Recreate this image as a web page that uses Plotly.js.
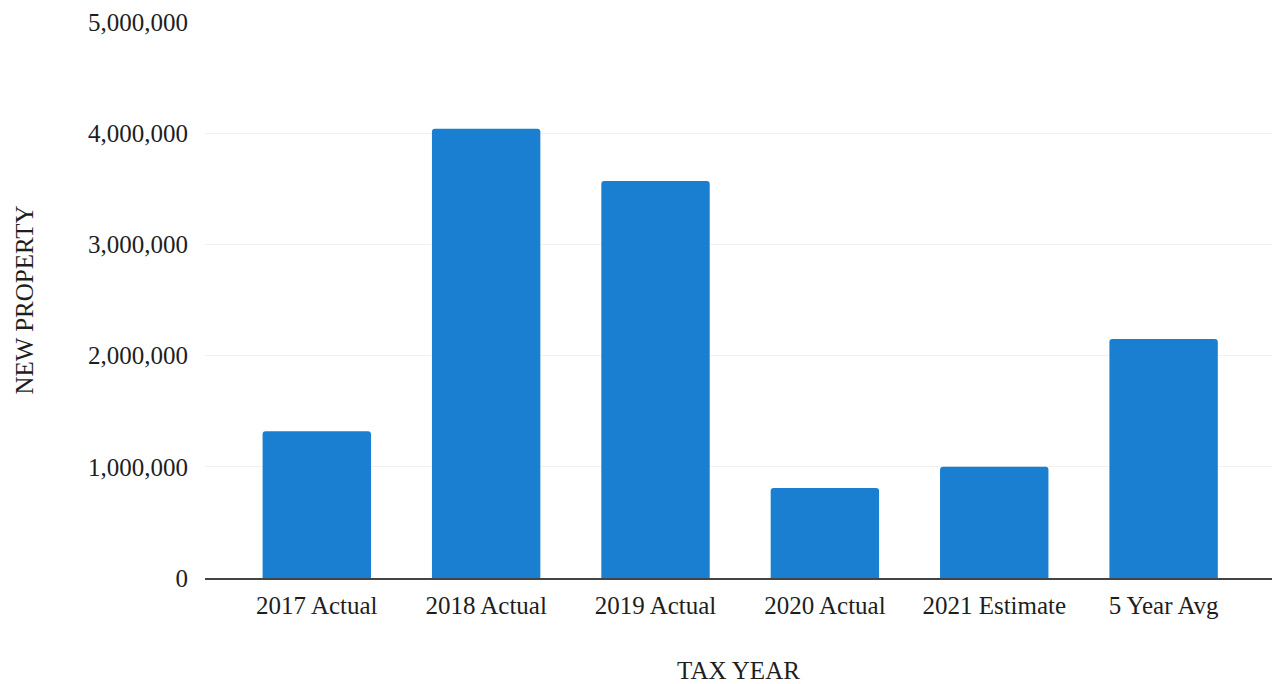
<!DOCTYPE html>
<html>
<head>
<meta charset="utf-8">
<script src="https://cdn.plot.ly/plotly-3.0.1.min.js"></script>
<style>
  html, body { margin: 0; padding: 0; background: #fff; }
  #chart { width: 1278px; height: 684px; }
</style>
</head>
<body>
<div id="chart"></div>
<script>
const categories = ["2017 Actual", "2018 Actual", "2019 Actual", "2020 Actual", "2021 Estimate", "5 Year Avg"];
const newProperty = [1320000, 4040000, 3570000, 810000, 1000000, 2150000];
const yTickValues = [0, 1000000, 2000000, 3000000, 4000000, 5000000];
const yTickLabels = ["0", "1,000,000", "2,000,000", "3,000,000", "4,000,000", "5,000,000"];

const fontFamily = '"Liberation Serif", "Times New Roman", Times, serif';

const trace = {
  type: 'bar',
  x: categories,
  y: newProperty,
  marker: { color: '#1a7fd0', line: { width: 0 }, cornerradius: 3 },
  hoverinfo: 'x+y'
};

const layout = {
  width: 1278,
  height: 684,
  margin: { l: 205, r: 6, t: 22, b: 106 },
  paper_bgcolor: '#ffffff',
  plot_bgcolor: '#ffffff',
  font: { family: fontFamily, size: 25, color: '#1e1e1e' },
  showlegend: false,
  bargap: 0.36,
  xaxis: {
    type: 'category',
    range: [-0.66, 5.64],
    showgrid: false,
    showline: true,
    linecolor: '#444444',
    linewidth: 1.5,
    ticks: '',
    ticklabelstandoff: 4,
    tickfont: { family: fontFamily, size: 25, color: '#1e1e1e' },
    title: { text: 'TAX YEAR', font: { family: fontFamily, size: 25, color: '#1e1e1e' }, standoff: 44 },
    automargin: false
  },
  yaxis: {
    range: [0, 5000000],
    tickvals: yTickValues,
    ticktext: yTickLabels,
    showgrid: true,
    gridcolor: '#f1f1f1',
    gridwidth: 1,
    zeroline: false,
    showline: false,
    ticks: '',
    ticklabelstandoff: 16,
    tickfont: { family: fontFamily, size: 25, color: '#1e1e1e' },
    title: { text: 'NEW PROPERTY', font: { family: fontFamily, size: 25, color: '#1e1e1e' }, standoff: 47 },
    automargin: false
  }
};

Plotly.newPlot('chart', [trace], layout, { displayModeBar: false });
</script>
</body>
</html>
